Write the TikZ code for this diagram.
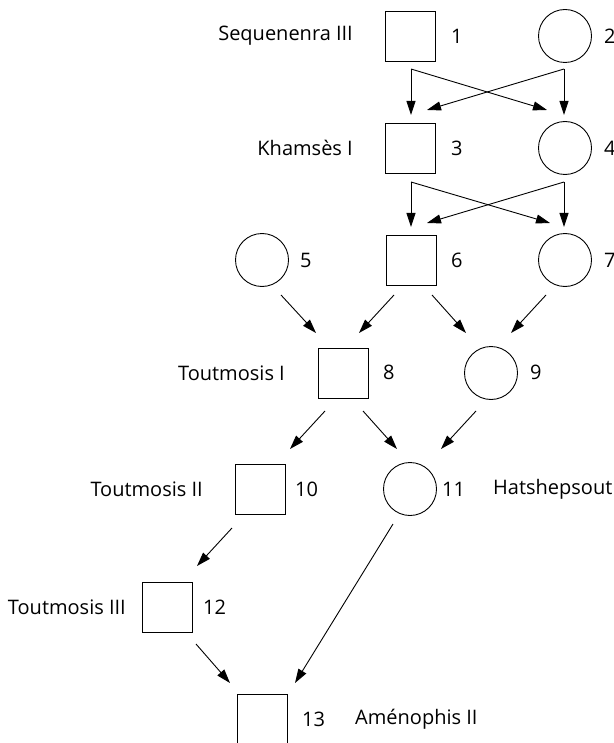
\documentclass[tikz,border=0pt]{standalone}
\usepackage{fontspec}
\setmainfont{Open Sans}
\usetikzlibrary{arrows.meta,calc}
\begin{document}
\begin{tikzpicture}[x=1pt,y=-1pt,
  sq/.style={draw,line width=0.9pt,minimum size=50pt,inner sep=0pt},
  ci/.style={draw,line width=0.9pt,circle,minimum size=53pt,inner sep=0pt},
  num/.style={anchor=west,inner sep=0pt,font=\fontsize{20}{22}\selectfont},
  lab/.style={inner sep=0pt,font=\fontsize{20}{22}\selectfont},
  arr/.style={line width=0.9pt,-{Triangle[length=14pt,width=9pt]}}]
\useasboundingbox (0,0) rectangle (613,743);
% individuals
\node[sq] (s1) at (410,36) {};
\node[ci] (c2) at (565,36) {};
\node[sq] (s3) at (410,148) {};
\node[ci] (c4) at (565,148) {};
\node[ci] (c5) at (262,260) {};
\node[sq] (s6) at (411,260) {};
\node[ci] (c7) at (565,260) {};
\node[sq] (s8) at (343,373) {};
\node[ci] (c9) at (491,373) {};
\node[sq] (s10) at (260,489) {};
\node[ci] (c11) at (410,489) {};
\node[sq] (s12) at (167,607) {};
\node[sq] (s13) at (262,719) {};
% numbers
\node[num] (n1) at (451,36) {1};
\node[num] (n2) at (604,36) {2};
\node[num] (n3) at (451,148) {3};
\node[num] (n4) at (604,148) {4};
\node[num] (n5) at (300,260) {5};
\node[num] (n6) at (451,260) {6};
\node[num] (n7) at (604,260) {7};
\node[num] (n8) at (383,372) {8};
\node[num] (n9) at (530,372) {9};
\node[num] (n10) at (295,489) {10};
\node[num] (n11) at (442,489) {11};
\node[num] (n12) at (203,607) {12};
\node[num] (n13) at (302,719) {13};
% names
\node[lab,anchor=east] (l1) at (353,36) {Sequenenra III};
\node[lab,anchor=east] (l3) at (353,148) {Khamsès I};
\node[lab,anchor=east] (l8) at (285,373) {Toutmosis I};
\node[lab,anchor=east] (l10) at (203,489) {Toutmosis II};
\node[lab,anchor=east] (l12) at (126,607) {Toutmosis III};
\node[lab,anchor=west] (l11) at (493,489) {Hatshepsout};
\node[lab,anchor=west] (l13) at (355,719) {Aménophis II};
% row 1 -> row 2
\draw[arr] ($(s1)+(1,33)$) -- ($(s3)+(1,-33)$);
\draw[arr] ($(s1)+(1,33)$) -- ($(c4)+(-18,-38)$);
\draw[arr] ($(c2)+(-1,33)$) -- ($(c4)+(-1,-33)$);
\draw[arr] ($(c2)+(-1,33)$) -- ($(s3)+(17,-38)$);
% row 2 -> row 3
\draw[arr] ($(s3)+(1,34)$) -- ($(s6)+(0,-33)$);
\draw[arr] ($(s3)+(1,34)$) -- ($(c7)+(-15,-37)$);
\draw[arr] ($(c4)+(-1,34)$) -- ($(c7)+(-1,-33)$);
\draw[arr] ($(c4)+(-1,34)$) -- ($(s6)+(16,-37)$);
% row 3 -> row 4
\draw[arr] ($(c5)+(19,35)$) -- ($(s8)+(-27,-40)$);
\draw[arr] ($(s6)+(-17,35)$) -- ($(s8)+(16,-40)$);
\draw[arr] ($(s6)+(21,35)$) -- ($(c9)+(-25,-40)$);
\draw[arr] ($(c7)+(-19,35)$) -- ($(c9)+(20,-40)$);
% row 4 -> row 5
\draw[arr] ($(s8)+(-18,38)$) -- ($(s10)+(30,-40)$);
\draw[arr] ($(s8)+(20,38)$) -- ($(c11)+(-13,-40)$);
\draw[arr] ($(c9)+(-15,38)$) -- ($(c11)+(31,-40)$);
% row 5 -> rows 6, 7
\draw[arr] ($(s10)+(-28,39)$) -- ($(s12)+(30,-41)$);
\draw[arr] ($(c11)+(-17,35)$) -- ($(s13)+(33,-36)$);
\draw[arr] ($(s12)+(29,37)$) -- ($(s13)+(-32,-36)$);
\end{tikzpicture}
\end{document}
